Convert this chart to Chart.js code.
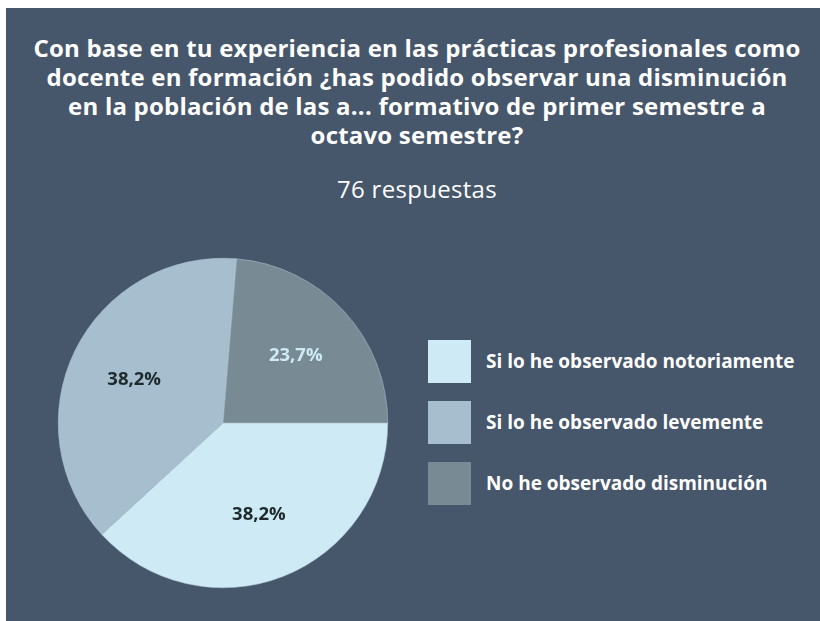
<!DOCTYPE html>
<html>
<head>
<meta charset="utf-8">
<script src="https://cdn.jsdelivr.net/npm/chart.js@4"></script>
<style>
  body { margin: 0; background: #fff; width: 820px; height: 621px; overflow: hidden; }
  #panel { position: absolute; left: 6px; top: 8px; width: 814px; height: 613px; background: #46566b; font-family: 'Open Sans', sans-serif; color: #fff; }
  #title { position: absolute; left: 0; top: 25px; width: 822px; text-align: center; font-weight: bold; font-size: 24px; letter-spacing: 0.2px; line-height: 29px; }
  #subtitle { position: absolute; left: 0; top: 166px; width: 822px; text-align: center; font-size: 24px; letter-spacing: 0.3px; line-height: 29px; }
  #pieWrap { position: absolute; left: 47px; top: 245px; width: 340px; height: 340px; }
  #legend { position: absolute; left: 422px; top: 332px; }
  .item { position: relative; height: 61px; }
  .box { position: absolute; left: 0; top: 0; width: 43px; height: 43px; }
  .lbl { position: absolute; left: 58px; top: 0; line-height: 43px; font-size: 19px; font-weight: bold; white-space: nowrap; }
</style>
</head>
<body>
<div id="panel">
  <div id="title">Con base en tu experiencia en las prácticas profesionales como<br>docente en formación ¿has podido observar una disminución<br>en la población de las a... formativo de primer semestre a<br>octavo semestre?</div>
  <div id="subtitle">76 respuestas</div>
  <div id="pieWrap"><canvas id="pie"></canvas></div>
  <div id="legend"></div>
</div>
<script>
const labels = ["Si lo he observado notoriamente", "Si lo he observado levemente", "No he observado disminución"];
const counts = [29, 29, 18];
const percentLabels = ["38,2%", "38,2%", "23,7%"];
const colors = ["#cdeaf5", "#a6bece", "#788a94"];
const labelColors = ["#1e2a2c", "#1e2a2c", "#cdeaf5"];

const legendDiv = document.getElementById('legend');
labels.forEach((name, i) => {
    const item = document.createElement('div');
    item.className = 'item';
    item.innerHTML = '<div class="box" style="background:' + colors[i] + '"></div><div class="lbl">' + name + '</div>';
    legendDiv.appendChild(item);
});

// draws the percent text inside each slice
const sliceLabels = {
    id: 'sliceLabels',
    afterDatasetsDraw(chart) {
        const ctx = chart.ctx;
        const meta = chart.getDatasetMeta(0);
        ctx.save();
        ctx.font = "bold 18.5px 'Open Sans'";
        ctx.textAlign = 'center';
        ctx.textBaseline = 'middle';
        meta.data.forEach((arc, i) => {
            const p = arc.getProps(['x', 'y', 'startAngle', 'endAngle', 'outerRadius']);
            const mid = (p.startAngle + p.endAngle) / 2;
            const r = p.outerRadius * 0.6;
            ctx.fillStyle = labelColors[i];
            ctx.fillText(percentLabels[i], p.x + Math.cos(mid) * r, p.y + Math.sin(mid) * r);
        });
        ctx.restore();
    }
};

new Chart(document.getElementById('pie'), {
    type: 'pie',
    data: {
        labels: labels,
        datasets: [{
            data: counts,
            backgroundColor: colors,
            borderColor: '#b9cbd4',
            borderWidth: 0.5
        }]
    },
    options: {
        responsive: true,
        maintainAspectRatio: false,
        animation: false,
        rotation: 90,
        layout: { padding: 5 },
        plugins: {
            legend: { display: false },
            tooltip: { enabled: false }
        }
    },
    plugins: [sliceLabels]
});
</script>
</body>
</html>
